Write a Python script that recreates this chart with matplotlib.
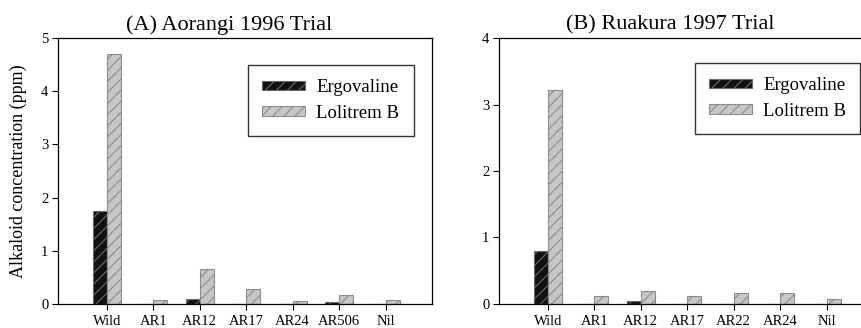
import numpy as np
import matplotlib
matplotlib.use("Agg")
import matplotlib.pyplot as plt

plt.rcParams['font.family'] = ['Liberation Serif', 'DejaVu Serif']
plt.rcParams['hatch.linewidth'] = 0.8

# panel A - Aorangi 1996
cats_a = ["Wild", "AR1", "AR12", "AR17", "AR24", "AR506", "Nil"]
ergo_a = [1.75, 0.0, 0.10, 0.0, 0.0, 0.03, 0.0]
lol_a = [4.70, 0.08, 0.66, 0.28, 0.05, 0.16, 0.08]

# panel B - Ruakura 1997
cats_b = ["Wild", "AR1", "AR12", "AR17", "AR22", "AR24", "Nil"]
ergo_b = [0.79, 0.0, 0.045, 0.0, 0.0, 0.0, 0.0]
lol_b = [3.22, 0.12, 0.20, 0.12, 0.16, 0.16, 0.08]

ERGO_FACE, ERGO_EDGE = '#111111', '#6a6a6a'
LOL_FACE, LOL_EDGE = '#c6c6c6', '#8c8c8c'
w = 0.3

fig = plt.figure(figsize=(8.62, 3.28), dpi=100)
axA = fig.add_axes([0.0673, 0.0732, 0.4339, 0.8109])
axB = fig.add_axes([0.5789, 0.0732, 0.4339, 0.8109])

def panel(ax, cats, ergo, lol, title, ymax, leg_xy):
    x = np.arange(len(cats))
    ax.bar(x - w/2, ergo, w, color=ERGO_FACE, edgecolor=ERGO_EDGE,
           hatch='///', linewidth=0.8, label='Ergovaline')
    ax.bar(x + w/2, lol, w, color=LOL_FACE, edgecolor=LOL_EDGE,
           hatch='///', linewidth=0.8, label='Lolitrem B')
    ax.set_xlim(-1.05, 7.0)
    ax.set_ylim(0, ymax)
    ax.set_xticks(x)
    ax.set_xticklabels(cats, fontsize=10.5)
    ax.set_yticks(range(ymax + 1))
    ax.tick_params(axis='y', labelsize=10.5, direction='out', length=4, pad=3)
    ax.tick_params(axis='x', direction='out', length=4, pad=4)
    for s in ax.spines.values():
        s.set_linewidth(0.9)
    ax.set_title(title, fontsize=16, x=0.457, pad=6)
    leg = ax.legend(loc='upper left', bbox_to_anchor=leg_xy, fontsize=13.5,
                    frameon=True, fancybox=False, edgecolor='black',
                    borderpad=0.75, labelspacing=0.45, handlelength=2.3,
                    handleheight=0.4, handletextpad=0.6, borderaxespad=0)
    leg.get_frame().set_linewidth(1.0)

panel(axA, cats_a, ergo_a, lol_a, "(A) Aorangi 1996 Trial", 5, (0.508, 0.898))
panel(axB, cats_b, ergo_b, lol_b, "(B) Ruakura 1997 Trial", 4, (0.524, 0.906))

axA.set_ylabel("Alkaloid concentration (ppm)", fontsize=13, labelpad=10)

fig.savefig("out.png", dpi=100)
